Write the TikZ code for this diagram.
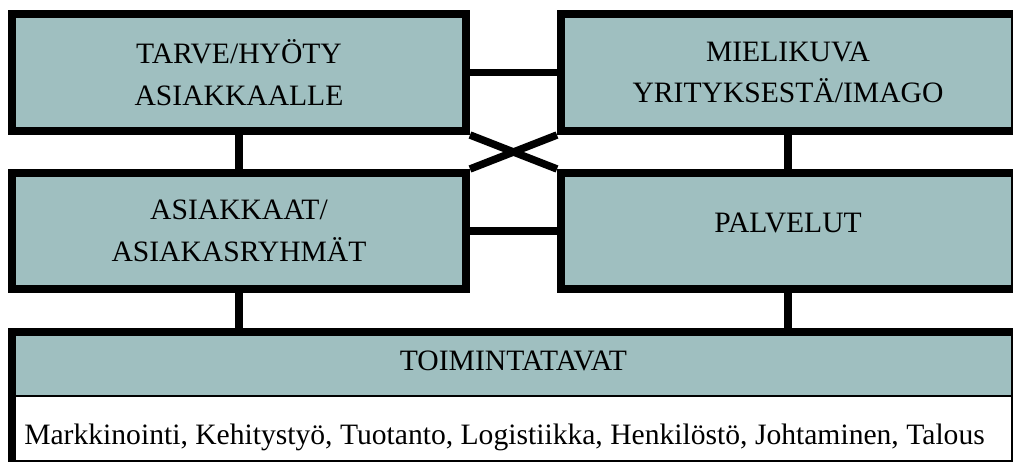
\documentclass[tikz,border=0pt]{standalone}
\usepackage{fontspec}
\setmainfont{Liberation Serif}
\usetikzlibrary{positioning}
\definecolor{boxfill}{RGB}{159,191,192}

\begin{document}
\begin{tikzpicture}[line width=4pt,align=center,font=\fontsize{14.8pt}{20.75pt}\selectfont,
    main node/.style={rectangle,draw,fill=boxfill,minimum width=227pt,minimum height=58.5pt,inner sep=0pt},
    link/.style={line width=3.75pt}]
  \useasboundingbox (0,0) rectangle (506.5pt,-230.5pt);
  \clip (0,0) rectangle (506.5pt,-230.5pt);

  \node[main node] (tarve) at (119.5pt,-36.25pt) {TARVE/HYÖTY\\ASIAKKAALLE};
  \node[main node] (imago) [right=43.5pt of tarve] {MIELIKUVA\\YRITYKSESTÄ/IMAGO};
  \node[main node,minimum height=58pt] (asiakkaat) [below=17pt of tarve] {ASIAKKAAT/\\ASIAKASRYHMÄT};
  \node[main node,minimum height=58pt,text depth=8pt] (palvelut) [below=17pt of imago] {PALVELUT};

  % frame of the bottom box, header and list inside it
  \node[draw,fill=white,minimum width=501.5pt,minimum height=66pt,inner sep=0pt] (kehys)
    [below=17.5pt of asiakkaat.south west,anchor=north west] {};
  \node[fill=boxfill,minimum width=497.5pt,minimum height=30pt,inner sep=0pt,outer sep=0pt,
    anchor=north west,text depth=5pt] (toiminta) at ([xshift=4pt,yshift=-4pt]kehys.north west) {TOIMINTATAVAT};
  \draw[line width=1pt] (toiminta.south west) -- (toiminta.south east);
  \node[inner sep=0pt,text height=10pt,text depth=3pt] (tehtavat) [below=12pt of toiminta,xshift=-4.5pt]
    {Markkinointi, Kehitystyö, Tuotanto, Logistiikka, Henkilöstö, Johtaminen, Talous};

  \draw[link] (tarve) -- (imago);
  \draw[link] (asiakkaat) -- (palvelut);
  \draw[link] (tarve) -- (asiakkaat);
  \draw[link] (imago) -- (palvelut);
  \draw[link] (asiakkaat) -- (asiakkaat |- kehys.north);
  \draw[link] (palvelut) -- (palvelut |- kehys.north);
  \draw[link] (tarve.south east) -- (palvelut.north west);
  \draw[link] (asiakkaat.north east) -- (imago.south west);
\end{tikzpicture}
\end{document}
